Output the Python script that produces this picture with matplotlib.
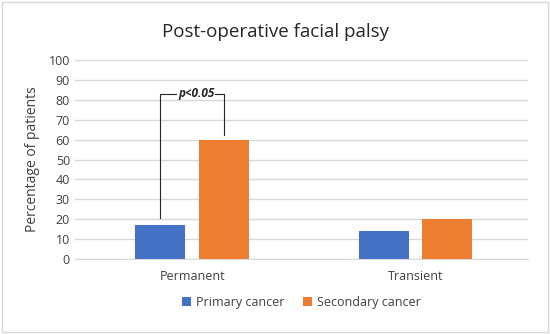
import matplotlib
matplotlib.use("Agg")
import matplotlib.pyplot as plt
import numpy as np
from matplotlib.patches import Rectangle

categories = ["Permanent", "Transient"]
primary = [17, 14]
secondary = [60, 20]
series_names = ["Primary cancer", "Secondary cancer"]
yticks = list(range(0, 101, 10))

plt.rcParams['font.family'] = ['Open Sans', 'DejaVu Sans']

fig = plt.figure(figsize=(5.5, 3.34), dpi=100)
ax = fig.add_axes([0.136, 0.2246, 0.824, 0.5954])

x = np.arange(len(categories))
w = 0.224
gap = 0.031
ax.bar(x - w / 2 - gap, primary, w, color='#4472C4', label=series_names[0], zorder=3)
ax.bar(x + w / 2 + gap, secondary, w, color='#ED7D31', label=series_names[1], zorder=3)

ax.set_xlim(-0.527, 1.504)
ax.set_ylim(0, 100)
ax.set_yticks(yticks)
ax.yaxis.grid(True, color='#D9D9D9', linewidth=1, zorder=0)
for s in ['top', 'right', 'left']:
    ax.spines[s].set_visible(False)
ax.spines['bottom'].set_color('#D9D9D9')
ax.tick_params(axis='both', length=0, colors='#404040', labelsize=9)
ax.tick_params(axis='x', pad=8)
ax.set_xticks(x)
ax.set_xticklabels(categories)
ax.set_ylabel("Percentage of patients", fontsize=10, color='#404040', labelpad=6)
fig.text(0.5, 0.905, "Post-operative facial palsy", ha='center', va='center',
         fontsize=13.5, color='#262626')

# significance bracket
x1 = x[0] - w / 2 - gap
x2 = x[0] + w / 2 + gap
top = 83
ax.plot([x1, x1, x1 + 0.07], [primary[0] + 3.5, top, top], color='#262626', lw=0.8, zorder=4)
ax.plot([x2 - 0.04, x2, x2], [top, top, secondary[0] + 2.5], color='#262626', lw=0.8, zorder=4)
ax.text((x1 + x2) / 2 + 0.02, top, "p<0.05", ha='center', va='center',
        fontsize=8.5, fontweight='bold', fontstyle='italic', color='#262626', zorder=5)

ax.legend(loc='upper center', bbox_to_anchor=(0.5, -0.13), ncol=2, frameon=False,
          fontsize=9, handlelength=0.7, handleheight=0.7, columnspacing=1.5,
          handletextpad=0.4, labelcolor='#404040')

fig.patches.append(Rectangle((0.003, 0.005), 0.994, 0.99, transform=fig.transFigure,
                             fill=False, edgecolor='#D9D9D9', lw=1))

fig.savefig("out.png", dpi=100)
